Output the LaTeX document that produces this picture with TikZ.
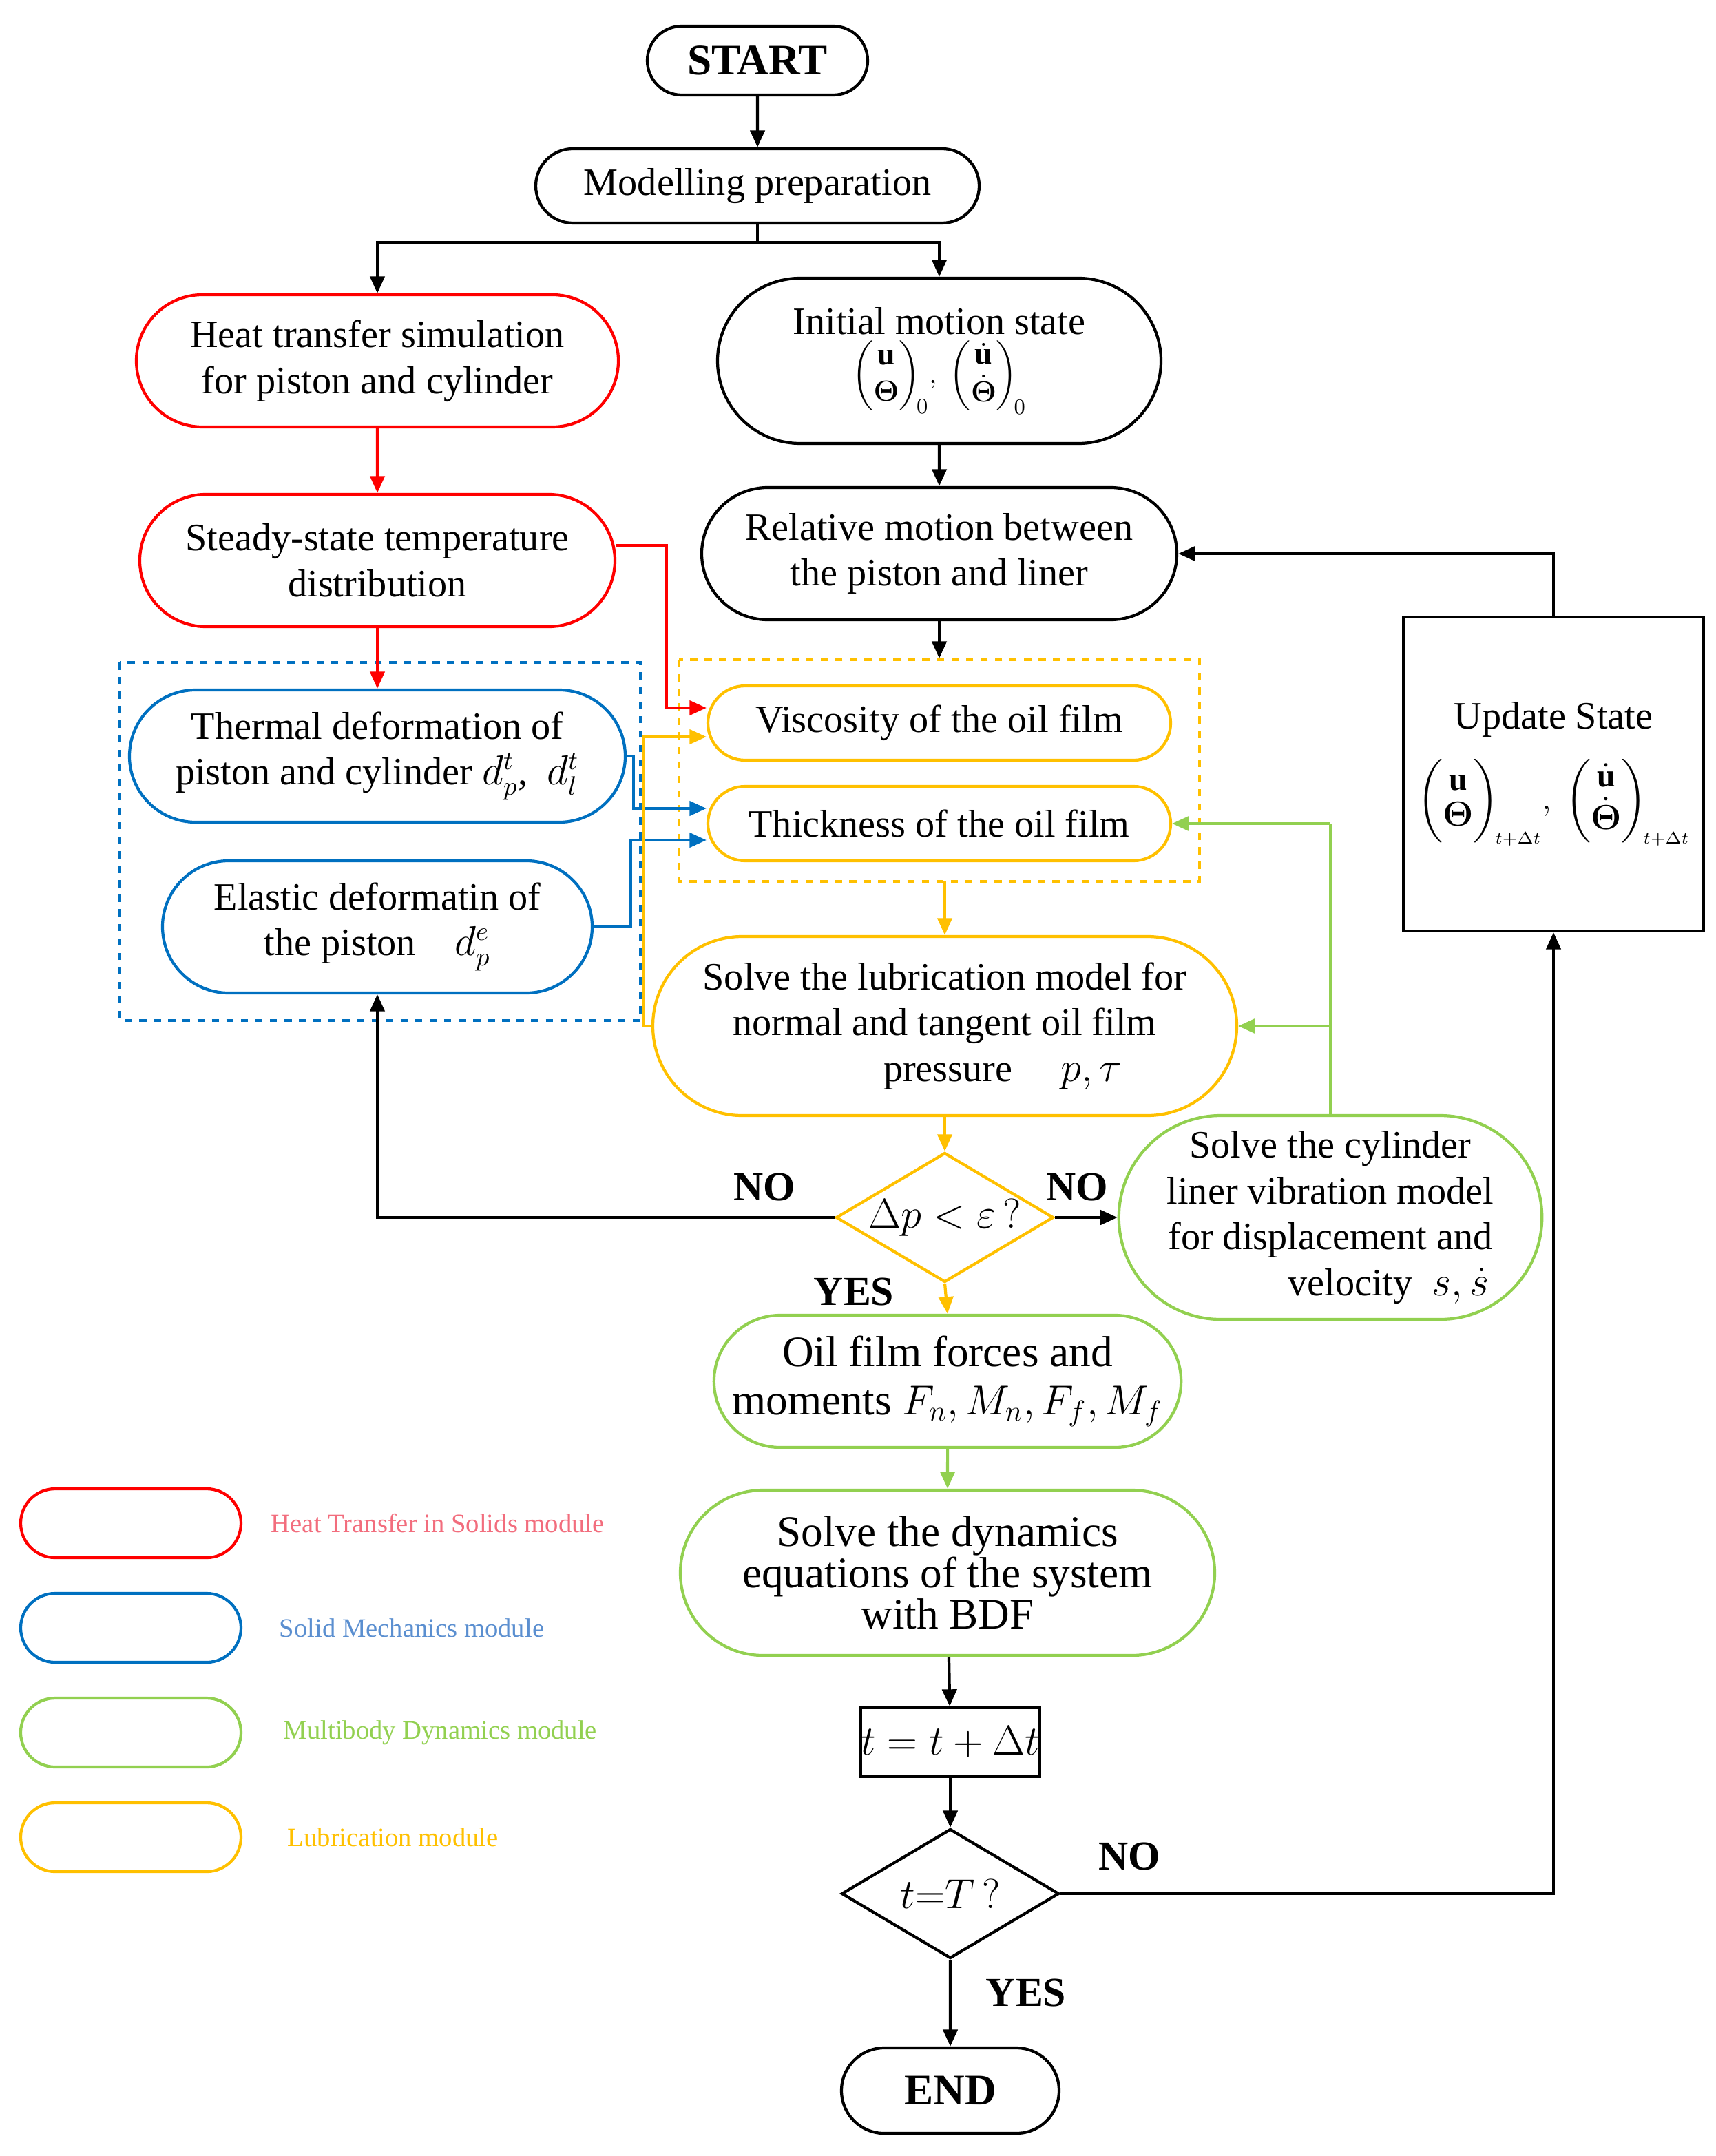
\documentclass[tikz,border=0pt]{standalone}
\usepackage{amsmath,bm}
\usepackage{fontspec}
\setmainfont{Liberation Serif}
\usetikzlibrary{shapes.misc,shapes.geometric,arrows.meta}
\definecolor{cR}{HTML}{FF0000}
\definecolor{cB}{HTML}{0070C0}
\definecolor{cG}{HTML}{92D050}
\definecolor{cY}{HTML}{FFC000}
\definecolor{lR}{HTML}{F26D7D}
\definecolor{lB}{HTML}{5B8FD0}
\begin{document}
\begin{tikzpicture}[x=0.02cm,y=-0.02cm,line width=1.2pt,
  sz/.style 2 args={minimum width=#1*0.02cm,minimum height=#2*0.02cm},
  rr/.style={rounded rectangle,draw,align=center,inner sep=0pt,font=\fontsize{16}{19}\selectfont},
  dia/.style={diamond,draw,aspect=1.68,inner sep=0pt,font=\fontsize{17}{20}\selectfont},
  arr/.style={-{Triangle[length=7pt,width=6pt]}},
  lg/.style={font=\fontsize{11}{13}\selectfont,anchor=west},
  lbl/.style={font=\bfseries\fontsize{17}{20}\selectfont}]
\useasboundingbox (0,0) rectangle (1245.5,1565.5);
% nodes
\node[rr,sz={160}{50},font=\bfseries\fontsize{18}{21}\selectfont] (start) at (550,44) {START};
\node[rr,sz={322}{54}] (prep) at (550,135) {Modelling preparation};
\node[rr,draw=cR,sz={350}{96}] (heat) at (274,262) {Heat transfer simulation\\for piston and cylinder};
\node[rr,sz={322}{120}] (init) at (682,262) {Initial motion state\\[1pt]
 {\fontsize{13}{15}\selectfont$\begin{pmatrix}\mathbf u\\ \bm\Theta\end{pmatrix}_{\!0}\!,\ \begin{pmatrix}\dot{\mathbf u}\\ \dot{\bm\Theta}\end{pmatrix}_{\!0}$}};
\node[rr,draw=cR,sz={345}{96}] (steady) at (274,407) {Steady-state temperature\\distribution};
\node[rr,sz={345}{96}] (rel) at (682,402) {Relative motion between\\the piston and liner};
\draw[cB,dashed,line width=1pt] (87,481) rectangle (465,741);
\draw[cY,dashed,line width=1pt] (493,479) rectangle (871,640);
\node[rr,draw=cB,sz={360}{96}] (therm) at (274,549) {Thermal deformation of\\piston and cylinder $d_p^t$,\ \ $d_l^t$};
\node[rr,draw=cB,sz={312}{96}] (elas) at (274,673) {Elastic deformatin of\\the piston\quad $d_p^e$};
\node[rr,draw=cY,sz={336}{54}] (visc) at (682,525) {Viscosity of the oil film};
\node[rr,draw=cY,sz={336}{54}] (thick) at (682,598) {Thickness of the oil film};
\node[rr,draw=cY,sz={424}{130}] (lub) at (686,745) {Solve the lubrication model for\\normal and tangent oil film\\\hspace{3em}pressure \quad $p,\tau$};
\node[dia,draw=cY,sz={158}{94}] (d1) at (686,884) {$\Delta p<\varepsilon\,?$};
\node[rr,draw=cG,sz={296}{148}] (cyl) at (966,884) {Solve the cylinder\\liner vibration model\\for displacement and\\\hspace{3em}velocity\ \ $s,\dot s$};
\node[rr,draw=cG,sz={336}{96},font=\fontsize{18}{20}\selectfont] (oil) at (688,1003) {Oil film forces and\\moments $F_n,M_n,F_f,M_f$};
\node[rr,draw=cG,sz={388}{120},font=\fontsize{18}{17}\selectfont] (dyn) at (688,1142) {Solve the dynamics\\equations of the system\\with BDF};
\node[draw,rectangle,sz={124}{50},inner sep=0pt,font=\fontsize{16}{20}\selectfont] (tb) at (690,1265) {$t=t+\Delta t$};
\node[dia,sz={158}{94}] (d2) at (690,1375) {$t{=}T\,?$};
\node[rr,sz={158}{62},font=\bfseries\fontsize{18}{21}\selectfont] (end) at (690,1518) {END};
\node[draw,rectangle,sz={218}{228},inner sep=0pt,align=center,font=\fontsize{16}{19}\selectfont] (upd) at (1128,562)
 {Update State\\[8pt] {\fontsize{13.5}{15}\selectfont$\begin{pmatrix}\mathbf u\\ \bm\Theta\end{pmatrix}_{\!\scriptscriptstyle t+\Delta t}\!,\ \begin{pmatrix}\dot{\mathbf u}\\ \dot{\bm\Theta}\end{pmatrix}_{\!\scriptscriptstyle t+\Delta t}$}};
% legend
\node[rr,draw=cR,sz={160}{50}] (l1) at (95,1106) {};
\node[rr,draw=cB,sz={160}{50}] (l2) at (95,1182) {};
\node[rr,draw=cG,sz={160}{50}] (l3) at (95,1258) {};
\node[rr,draw=cY,sz={160}{50}] (l4) at (95,1334) {};
\node[lg,text=lR] (t1) at (190,1106) {Heat Transfer in Solids module};
\node[lg,text=lB] (t2) at (196,1182) {Solid Mechanics module};
\node[lg,text=cG] (t3) at (199,1258) {Multibody Dynamics module};
\node[lg,text=cY] (t4) at (202,1334) {Lubrication module};
% connectors
\draw[arr] (start) -- (prep);
\draw (prep.south) -- (550,176) coordinate (m);
\draw[arr] (m) -| (heat.north);
\draw[arr] (m) -| (init.north);
\draw[arr,cR] (heat) -- (steady);
\draw[arr,cR] (steady.south) -- (therm.north);
\draw[arr,cR] (steady.east |- 0,396) -- (484,396) |- (visc.west |- 0,514);
\draw[arr] (init) -- (rel);
\draw[arr] (rel.south) -- (682,478);
\draw[arr,cB] (therm.east) -- (460,549) |- (thick.west |- 0,587);
\draw[arr,cB] (elas.east) -- (458,673) |- (thick.west |- 0,610);
\draw[arr,cY] (lub.west) -- (467,745) |- (visc.west |- 0,535);
\draw[arr,cY] (686,640) -- (lub.north);
\draw[arr,cY] (lub.south) -- (d1.north);
\draw[arr,cY] (d1.south) -- (oil.north);
\draw[arr] (d1.west) -| (elas.south);
\draw[arr] (d1.east) -- (cyl.west);
\draw[cG] (cyl.north) -- (966,598) coordinate (g);
\draw[arr,cG] (g) -- (thick.east);
\draw[arr,cG] (966,745) -- (lub.east);
\draw[arr,cG] (oil) -- (dyn);
\draw[arr] (dyn) -- (tb);
\draw[arr] (tb) -- (d2);
\draw[arr] (d2) -- (end);
\draw[arr] (d2.east) -| (upd.south);
\draw[arr] (upd.north) |- (rel.east);
% labels
\node[lbl] (n1) at (555,862) {NO};
\node[lbl] (n2) at (782,862) {NO};
\node[lbl] (y1) at (620,938) {YES};
\node[lbl] (n3) at (820,1348) {NO};
\node[lbl] (y2) at (745,1447) {YES};
\end{tikzpicture}
\end{document}
